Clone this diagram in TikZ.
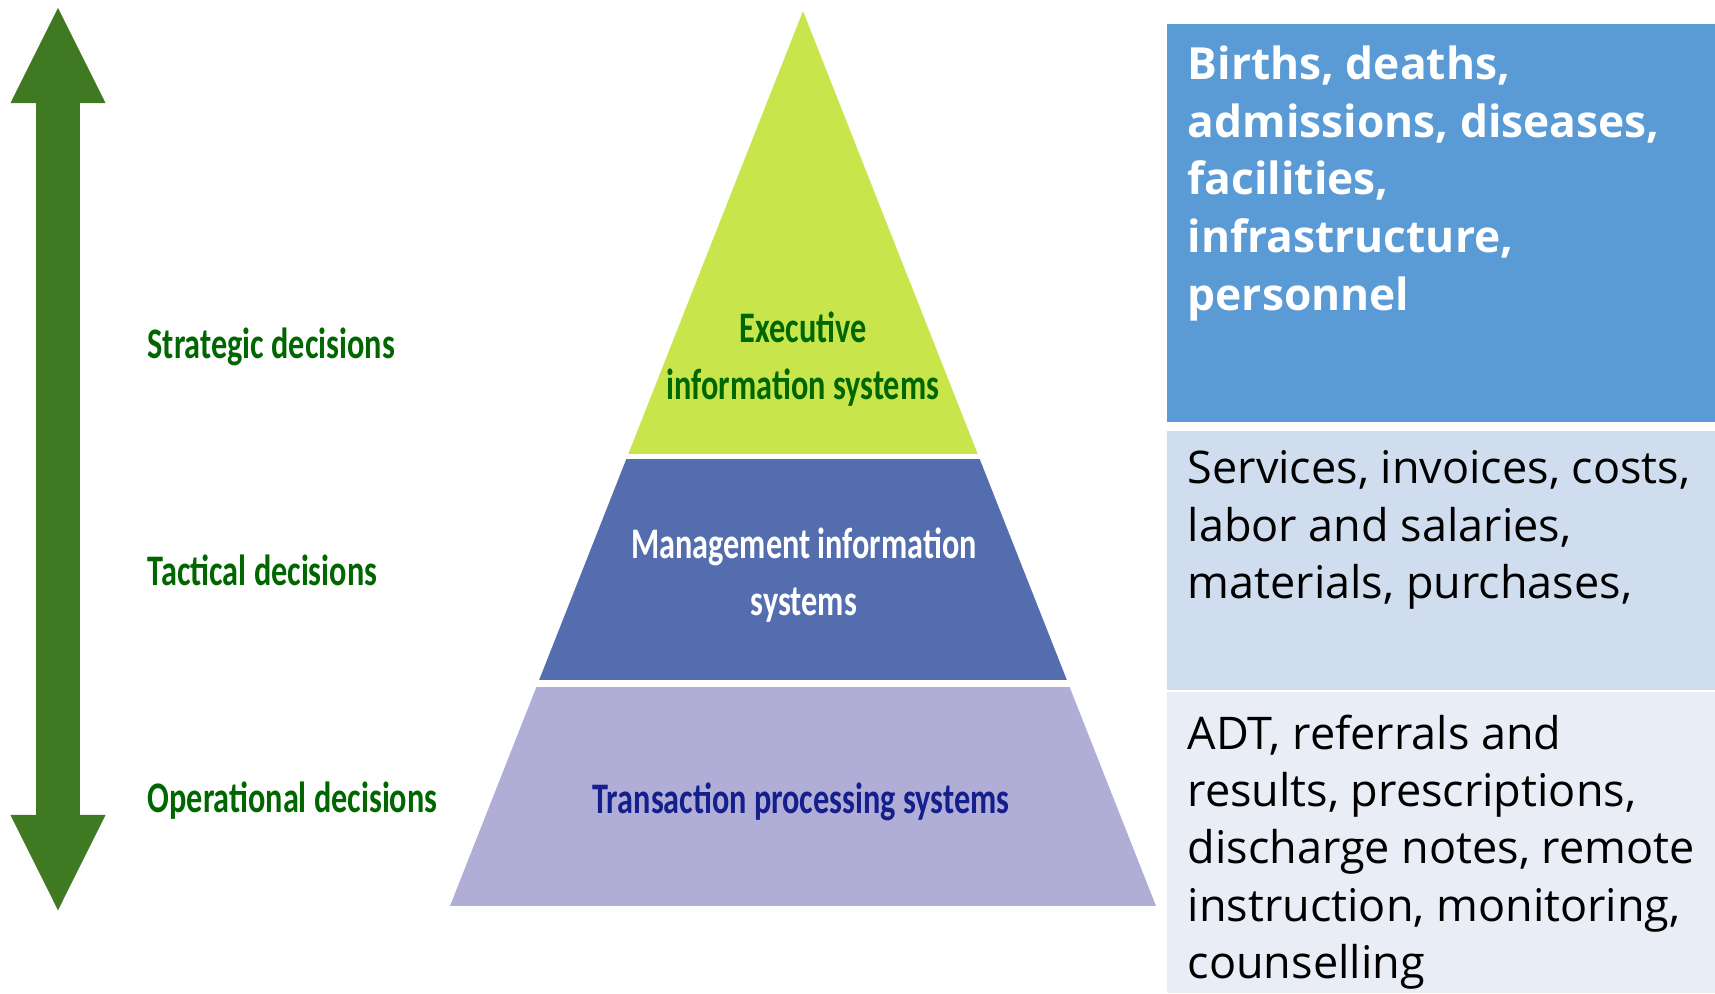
\documentclass[tikz,border=0pt]{standalone}
\usepackage{fontspec}
\usepackage{tikz}
\usetikzlibrary{arrows.meta,positioning}
\newfontfamily\calib[FakeStretch=0.74]{Carlito}
\newfontfamily\segoe{Open Sans}
\definecolor{arrowG}{RGB}{63,122,34}
\definecolor{textG}{RGB}{0,102,0}
\definecolor{tierA}{RGB}{200,230,76}
\definecolor{tierB}{RGB}{84,109,175}
\definecolor{tierC}{RGB}{176,174,214}
\definecolor{navyT}{RGB}{20,30,140}
\definecolor{boxA}{RGB}{91,155,213}
\definecolor{boxB}{RGB}{208,221,239}
\definecolor{boxC}{RGB}{233,237,246}

\begin{document}
\begin{tikzpicture}[x=0.01cm,y=-0.01cm,
    decision/.style={anchor=base west, inner sep=0pt, text=textG,
        font=\calib\bfseries\fontsize{12.4}{15}\selectfont},
    level/.style={align=center, inner sep=0pt,
        font=\calib\bfseries\fontsize{12.4}{16}\selectfont},
    panel/.style={anchor=north west, inner sep=0pt, outer sep=0pt,
        minimum width=5.48cm},
    paneltext/.style={anchor=north west, inner sep=0pt, align=left,
        font=\segoe\fontsize{12.8}{16.3}\selectfont},
    bigarrow/.style={arrowG, line width=0.44cm,
        arrows={Triangle[width=0.87cm,length=0.98cm]-Triangle[width=0.87cm,length=0.98cm]}}]
    \useasboundingbox (0,0) rectangle (1715,993);
    %
    % decision arrow
    \coordinate (uptip) at (58,5);
    \coordinate (downtip) at (58,913);
    \draw[bigarrow] (downtip) -- (uptip);
    %
    % pyramid
    \coordinate (apex) at (803,11);
    \coordinate (baseL) at (450,906);
    \coordinate (baseR) at (1156,906);
    \begin{scope}
        \clip (apex) -- (baseL) -- (baseR) -- cycle;
        \fill[tierA] (400,0) rectangle (1200,454);
        \fill[tierB] (400,459) rectangle (1200,680);
        \fill[tierC] (400,687) rectangle (1200,906);
    \end{scope}
    \node[level, text=textG] (eis) at (803,359) {Executive\\information systems};
    \node[level, text=white] (mis) at (804,575) {Management information\\systems};
    \node[level, text=navyT] (tps) at (801,802) {Transaction processing systems};
    %
    \node[decision] (strat) at (147,358) {Strategic decisions};
    \node[decision] (tact) at (147,585) {Tactical decisions};
    \node[decision] (oper) at (147,812) {Operational decisions};
    %
    % data panels
    \node[panel, fill=boxA, minimum height=3.98cm] (dataA) at (1167,24) {};
    \node[panel, fill=boxB, minimum height=2.59cm] (dataB) at (1167,431) {};
    \node[panel, fill=boxC, minimum height=3.01cm] (dataC) at (1167,692) {};
    \node[paneltext, text=white, font=\segoe\bfseries\fontsize{12.6}{16.4}\selectfont]
        at ([shift={(20,21)}]dataA.north west)
        {Births, deaths,\\admissions, diseases,\\facilities,\\infrastructure,\\personnel};
    \node[paneltext] at ([shift={(20,19)}]dataB.north west)
        {Services, invoices, costs,\\labor and salaries,\\materials, purchases,};
    \node[paneltext] at ([shift={(20,22)}]dataC.north west)
        {ADT, referrals and\\results, prescriptions,\\discharge notes, remote\\instruction, monitoring,\\counselling};
\end{tikzpicture}
\end{document}
